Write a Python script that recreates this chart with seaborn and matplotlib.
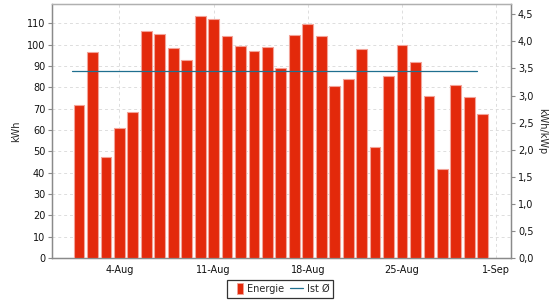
import numpy as np
import pandas as pd
import seaborn as sns
import matplotlib
matplotlib.use("Agg")
import matplotlib.pyplot as plt
from matplotlib.patches import Rectangle
from matplotlib.lines import Line2D
from matplotlib.legend_handler import HandlerPatch
from matplotlib.ticker import FuncFormatter, MultipleLocator

# ---- data ----
days = list(range(1, 32))  # 1..31 August
energie = [71.6, 96.4, 47.2, 61.0, 68.4, 106.4, 104.9, 98.3, 93.1, 113.4,
           112.0, 104.1, 99.5, 96.9, 99.1, 89.2, 104.4, 109.7, 104.1, 80.5,
           83.8, 98.1, 52.0, 85.5, 99.9, 91.7, 75.9, 41.9, 81.1, 75.6, 67.4]
kwp = 25.4
tick_days = [4, 11, 18, 25, 32]
tick_labels = ["4-Aug", "11-Aug", "18-Aug", "25-Aug", "1-Sep"]
series_names = ["Energie", "Ist Ø"]

df = pd.DataFrame({"day": days, "Energie": energie})
avg = float(np.mean(energie))

sns.set_style("white")
plt.rcParams["font.family"] = ["DejaVu Sans"]

bar_color = "#e3290b"
edge_color = "#f3a398"
line_color = "#1f6f8f"
grid_color = "#dddddd"
spine_color = "#8a8a8a"

fig = plt.figure(figsize=(5.6, 3.0), dpi=100)
ax = fig.add_axes([0.093, 0.14, 0.8195, 0.8457])

sns.barplot(data=df, x="day", y="Energie", native_scale=True, color=bar_color,
            saturation=1, width=0.8, edgecolor=edge_color, linewidth=0.8,
            ax=ax, zorder=3)

line_df = pd.DataFrame({"x": [days[0] - 0.5, days[-1] - 0.4], "y": [avg, avg]})
sns.lineplot(data=line_df, x="x", y="y", color=line_color, linewidth=0.9, ax=ax, zorder=4)

ax.set_xlim(days[0] - 2.0, days[-1] + 2.1)
ax.set_ylim(0, 119)
ax.set_yticks(range(0, 111, 10))
ax.set_xticks(tick_days)
ax.set_xticklabels(tick_labels)
ax.set_xlabel("")
ax.set_ylabel("kWh", fontsize=7, labelpad=4)

ax.grid(True, color=grid_color, linestyle=(0, (3, 3)), linewidth=0.7, zorder=0)
ax.set_axisbelow(True)

for s in ["left", "bottom", "right", "top"]:
    ax.spines[s].set_color(spine_color)
    ax.spines[s].set_linewidth(1.0)
ax.spines["top"].set_color("#b0b0b0")

ax.tick_params(axis="both", labelsize=7, colors="#111111", length=3,
               width=0.8, color=spine_color, direction="out", pad=2)

ax2 = ax.twinx()
ax2.set_ylim(0, 119 / kwp)
ax2.set_yticks(np.arange(0, 4.51, 0.5))
ax2.yaxis.set_major_formatter(FuncFormatter(lambda v, p: f"{v:.1f}".replace(".", ",")))
ax2.set_ylabel("kWh/kWp", fontsize=7, rotation=-90, labelpad=10)
ax2.tick_params(axis="y", labelsize=7, colors="#111111", length=3,
                width=0.8, color=spine_color, direction="out", pad=2)
for s in ["left", "bottom", "right", "top"]:
    ax2.spines[s].set_color(spine_color)
ax2.spines["top"].set_color("#b0b0b0")
ax2.grid(False)


class NarrowPatch(HandlerPatch):
    def create_artists(self, legend, orig_handle, xdescent, ydescent, width,
                       height, fontsize, trans):
        w = width * 0.5
        r = Rectangle((-xdescent + width - w, -ydescent - height * 0.35),
                      w, height * 1.7, facecolor=bar_color, edgecolor=edge_color,
                      linewidth=0.6, transform=trans)
        return [r]


h_bar = Rectangle((0, 0), 1, 1, facecolor=bar_color, edgecolor=edge_color)
h_line = Line2D([0], [0], color=line_color, linewidth=0.9)
leg = fig.legend([h_bar, h_line], series_names, loc="center",
                 bbox_to_anchor=(0.5, 0.037), ncol=2, fontsize=7,
                 frameon=True, fancybox=False, edgecolor="black",
                 handlelength=1.3, handletextpad=0.4, columnspacing=0.6,
                 borderpad=0.4, borderaxespad=0.2,
                 handler_map={Rectangle: NarrowPatch()})
leg.get_frame().set_linewidth(0.9)

fig.savefig("out.png", dpi=100)
